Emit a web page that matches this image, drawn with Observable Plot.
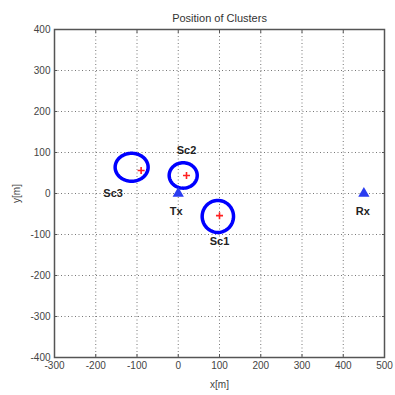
<!DOCTYPE html>
<html>
<head>
<meta charset="utf-8">
<script src="https://cdn.jsdelivr.net/npm/d3@7"></script>
<script src="https://cdn.jsdelivr.net/npm/@observablehq/plot@0.6"></script>
<style>
  html, body { margin: 0; padding: 0; background: #fff; }
  svg { display: block; }
</style>
</head>
<body>
<div id="chart"></div>
<script>
// ---- data ----
const titleText = "Position of Clusters";
const xLabel = "x[m]";
const yLabel = "y[m]";
const xTicks = [-300, -200, -100, 0, 100, 200, 300, 400, 500];
const yTicks = [-400, -300, -200, -100, 0, 100, 200, 300, 400];

const clusterNames = ["Sc1", "Sc2", "Sc3"];
const clusterX = [100, 20, -90];      // cluster centroids (red stars)
const clusterY = [-54, 44, 56];
const ringX = [96, 12, -113];         // cluster extent rings (blue)
const ringY = [-56, 44, 64];
const ringRx = [38, 34, 40];
const ringRy = [39, 31, 34];

const nodeNames = ["Tx", "Rx"];
const nodeX = [0, 450];
const nodeY = [0, 0];

// ---- tables ----
const clusters = clusterNames.map((name, i) => ({name, x: clusterX[i], y: clusterY[i]}));
const nodes = nodeNames.map((name, i) => ({name, x: nodeX[i], y: nodeY[i]}));
const rings = clusterNames.flatMap((name, i) =>
  d3.range(0, 73).map(k => {
    const a = (k / 72) * 2 * Math.PI;
    return {name, x: ringX[i] + ringRx[i] * Math.cos(a), y: ringY[i] + ringRy[i] * Math.sin(a)};
  })
);

const font = "Arial, 'Liberation Sans', sans-serif";
const fmt = d => String(d);
const lbl = (name, dx, dy, src) =>
  Plot.text(src.filter(d => d.name === name), {
    x: "x", y: "y", text: "name", dx, dy,
    fontSize: 11, fontWeight: "bold", fill: "#222", fontFamily: font
  });

const chart = Plot.plot({
  width: 395,
  height: 395,
  marginLeft: 54,
  marginRight: 11,
  marginTop: 29,
  marginBottom: 38,
  style: {fontFamily: font, fontSize: "10px", color: "#444", background: "#fff"},
  x: {domain: [-300, 500], ticks: xTicks},
  y: {domain: [-400, 400], ticks: yTicks},
  marks: [
    Plot.gridX(xTicks, {stroke: "#777", strokeOpacity: 1, strokeDasharray: "1,2.5", strokeWidth: 1}),
    Plot.gridY(yTicks, {stroke: "#777", strokeOpacity: 1, strokeDasharray: "1,2.5", strokeWidth: 1}),
    Plot.axisX({ticks: xTicks, tickFormat: fmt, tickSize: -3, tickPadding: 7, stroke: "#555", label: xLabel, labelAnchor: "center", labelArrow: "none", labelOffset: 30, fill: "#444"}),
    Plot.axisY({ticks: yTicks, tickFormat: fmt, tickSize: -3, tickPadding: 7, stroke: "#555", label: yLabel, labelAnchor: "center", labelArrow: "none", labelOffset: 42, fill: "#444"}),
    Plot.axisX({anchor: "top", ticks: xTicks, tickFormat: () => "", tickSize: -3, stroke: "#555", label: null}),
    Plot.axisY({anchor: "right", ticks: yTicks, tickFormat: () => "", tickSize: -3, stroke: "#555", label: null}),
    Plot.frame({stroke: "#555", strokeWidth: 1.5}),
    Plot.line(rings, {x: "x", y: "y", z: "name", stroke: "#0000ff", strokeWidth: 3.5}),
    Plot.dot(clusters, {x: "x", y: "y", symbol: "plus", r: 2.4, stroke: "#ff2020", strokeWidth: 1.6}),
    Plot.dot(nodes, {x: "x", y: "y", symbol: "triangle", r: 4.2, fill: "#2a3cf0", stroke: "none"}),
    lbl("Sc1", 0, 26, clusters),
    lbl("Sc2", 0, -25, clusters),
    lbl("Sc3", -28, 23, clusters),
    lbl("Tx", -2, 18, nodes),
    lbl("Rx", -1, 18, nodes),
    Plot.text([titleText], {frameAnchor: "top", dy: -15, fontSize: 11, fill: "#333", fontFamily: font})
  ]
});

document.getElementById("chart").appendChild(chart);
</script>
</body>
</html>
